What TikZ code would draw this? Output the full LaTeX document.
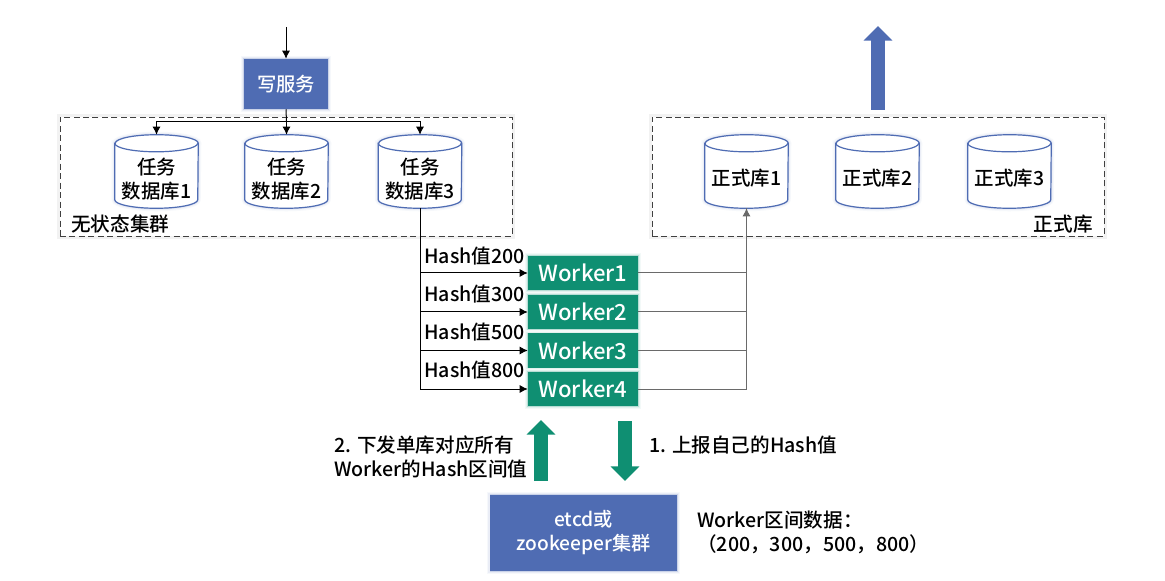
\documentclass[tikz,border=0pt]{standalone}
\usepackage{fontspec}
\setmainfont{Noto Sans CJK SC Medium}
\usetikzlibrary{arrows.meta}
\definecolor{bluefill}{HTML}{4F6CB3}
\definecolor{greenfill}{HTML}{0F8F72}
\definecolor{greyline}{HTML}{6A6A6A}
\tikzset{
  glowb/.style={preaction={draw=bluefill!5,line width=4.5pt},preaction={draw=bluefill!12,line width=2.6pt},preaction={draw=bluefill!30,line width=1pt}},
  glowg/.style={preaction={draw=greenfill!5,line width=4.5pt},preaction={draw=greenfill!12,line width=2.6pt},preaction={draw=greenfill!30,line width=1pt}},
  svcbox/.style={fill=bluefill,text=white,inner sep=0pt,align=center,glowb},
  wbox/.style={fill=greenfill,text=white,inner sep=0pt,minimum width=82.5pt,minimum height=25.5pt,font=\fontsize{16.6}{18}\selectfont,glowg},
  dbnode/.style={rectangle,minimum width=62.25pt,minimum height=54.75pt,inner sep=0pt},
  dbshape/.style={draw=bluefill,line width=0.9pt,fill=white,glowb},
  dbrim/.style={draw=bluefill,line width=0.9pt},
  dbtext/.style={inner sep=0pt,align=center,font=\fontsize{14.6}{18}\selectfont},
  cluster/.style={draw=black!75,dashed,dash pattern=on 4.5pt off 2.6pt,line width=0.7pt,fill=white,inner sep=0pt,
     preaction={draw=black!5,line width=5pt,solid}},
  lbl/.style={inner sep=0pt,font=\fontsize{14.7}{18}\selectfont},
  conn/.style={line width=0.75pt,black},
  tip/.style={-{Latex[length=6pt,width=6pt]}},
  bigb/.style={line width=10.5pt,bluefill,-{Triangle[length=11pt,width=21pt]}},
  bigg/.style={line width=10.5pt,greenfill,-{Triangle[length=11pt,width=21pt]}},
}
\newcommand{\dbcyl}[2]{%
  \node[dbnode] (#1) at (#2,171.5) {};
  \draw[dbshape] ([yshift=-6.4pt]#1.north west) -- ([yshift=6.4pt]#1.south west)
    arc[start angle=180,end angle=360,x radius=31.125pt,y radius=6.4pt]
    -- ([yshift=-6.4pt]#1.north east)
    arc[start angle=0,end angle=180,x radius=31.125pt,y radius=6.4pt] -- cycle;
  \draw[dbrim] ([yshift=-6.4pt]#1.north west)
    arc[start angle=180,end angle=360,x radius=31.125pt,y radius=6.4pt];
}
\begin{document}
\begin{tikzpicture}[x=0.75pt,y=-0.75pt]
\useasboundingbox (0,0) rectangle (1165,581);
% clusters
\node[cluster,minimum width=339pt,minimum height=89.25pt] (c1) at (286,176.5) {};
\node[cluster,minimum width=339pt,minimum height=89.25pt] (c2) at (878,176.5) {};
% write service
\coordinate (in) at (286,27);
\node[svcbox,minimum width=63pt,minimum height=37.5pt,font=\fontsize{14.5}{18}\selectfont] (svc) at (286,84) {写服务};
% databases
\dbcyl{d1}{156.5}
\dbcyl{d2}{286.5}
\dbcyl{d3}{420}
\dbcyl{f1}{746.5}
\dbcyl{f2}{877.5}
\dbcyl{f3}{1009.5}
\node[dbtext] (d1t) at (156.5,179) {任务\\数据库1};
\node[dbtext] (d2t) at (286.5,179) {任务\\数据库2};
\node[dbtext] (d3t) at (420,179) {任务\\数据库3};
\node[dbtext] (f1t) at (746.5,178) {正式库1};
\node[dbtext] (f2t) at (877.5,178) {正式库2};
\node[dbtext] (f3t) at (1009.5,178) {正式库3};
\node[lbl,anchor=west] (t1) at (71,224) {无状态集群};
\node[lbl,anchor=east] (t2) at (1093,224) {正式库};
% workers
\node[wbox] (w1) at (583,273) {Worker1};
\node[wbox] (w2) at (583,312) {Worker2};
\node[wbox] (w3) at (583,350.5) {Worker3};
\node[wbox] (w4) at (583,389) {Worker4};
\node[lbl,anchor=west] (h1) at (424,256) {Hash值200};
\node[lbl,anchor=west] (h2) at (424,294) {Hash值300};
\node[lbl,anchor=west] (h3) at (424,332) {Hash值500};
\node[lbl,anchor=west] (h4) at (424,370) {Hash值800};
% etcd
\node[svcbox,minimum width=140pt,minimum height=57pt,font=\fontsize{14.4}{18}\selectfont] (etcd) at (583.5,533) {etcd或\\zookeeper集群};
% texts
\node[lbl,anchor=north west,align=left] (m2) at (334,435) {2. 下发单库对应所有\\Worker的Hash区间值};
\node[lbl,anchor=west] (m1) at (649,445) {1. 上报自己的Hash值};
\node[lbl,anchor=north west,align=left] (m3) at (697,511) {Worker区间数据：\\（200，300，500，800）};
% connectors
\draw[conn,tip] (in) -- (svc.north);
\coordinate (bus) at (286.5,122);
\draw[conn] (svc.south) -- (bus);
\draw[conn,tip] (bus) -- (d2.north);
\draw[conn,tip] (bus) -| (d1.north);
\draw[conn,tip] (bus) -| (d3.north);
\draw[conn,tip] (d3.south) |- (w1.west);
\draw[conn,tip] (d3.south) |- (w2.west);
\draw[conn,tip] (d3.south) |- (w3.west);
\draw[conn,tip] (d3.south) |- (w4.west);
\draw[conn,greyline,tip] (w1.east) -| (f1.south);
\draw[conn,greyline] (w2.east) -| (f1.south);
\draw[conn,greyline] (w3.east) -| (f1.south);
\draw[conn,greyline] (w4.east) -| (f1.south);
% block arrows
\coordinate (bl) at (878,110);
\coordinate (bh) at (878,26);
\draw[bigb] (bl) -- (bh);
\coordinate (ul) at (541,481);
\coordinate (uh) at (541,420);
\draw[bigg] (ul) -- (uh);
\coordinate (dl) at (625,421);
\coordinate (dh) at (625,481);
\draw[bigg] (dl) -- (dh);
\end{tikzpicture}
\end{document}
